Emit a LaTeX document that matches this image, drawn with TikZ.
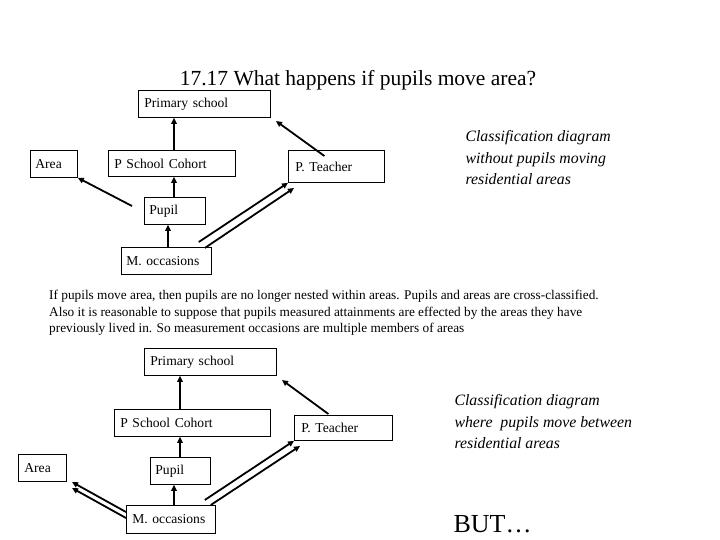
\documentclass[tikz,border=0pt]{standalone}
\usepackage{fontspec}
\setmainfont{Liberation Serif}
\usetikzlibrary{arrows.meta}
\begin{document}
\begin{tikzpicture}[x=1pt,y=-1pt,
  bx/.style={draw,line width=0.8pt,anchor=north west,inner sep=0pt,font=\fontsize{13.6}{15}\selectfont},
  ar/.style={line width=1.8pt,-{Triangle[length=6pt,width=5.5pt]}},
  it/.style={anchor=north west,align=left,font=\itshape\fontsize{15.8}{21.5}\selectfont}]
\useasboundingbox (0,0) rectangle (720,540);
\node[font=\fontsize{21.5}{24}\selectfont] (title) at (358,80) {17.17 What happens if pupils move area?};
% top diagram
\node[bx,minimum width=132pt,minimum height=27pt,text width=132pt] (ps1) at (138,90) {\hspace*{6pt}Primary school};
\node[bx,minimum width=47pt,minimum height=27pt,text width=47pt] (ar1) at (30,150) {\hspace*{5pt}Area};
\node[bx,minimum width=127pt,minimum height=26pt,text width=127pt] (co1) at (108,150) {\hspace*{6pt}P School Cohort};
\node[bx,minimum width=96pt,minimum height=32pt,text width=96pt] (te1) at (288,150) {\hspace*{7pt}P. Teacher};
\node[bx,minimum width=61pt,minimum height=27pt,text width=61pt] (pu1) at (144,197) {\hspace*{5pt}Pupil};
\node[bx,minimum width=90pt,minimum height=27pt,text width=90pt] (mo1) at (121,247) {\hspace*{5pt}M. occasions};
\draw[ar] (co1.north -| 174,0) -- (ps1.south -| 174,0);
\draw[ar] (pu1.north -| 174,0) -- (co1.south -| 174,0);
\draw[ar] (mo1.north -| 168,0) -- (pu1.south -| 168,0);
\draw[ar] (pu1.north west) ++(-12,9) coordinate (p1a) -- (ar1.south east);
\draw[ar] (te1.north) ++(-12,6) coordinate (t1a) -- (276,121) coordinate (t1b);
\draw[ar] (mo1.north east) ++(-13,-5) coordinate (m1a) -- (te1.south west);
\draw[ar] (mo1.north east) ++(-7,1) coordinate (m1b) -- (294,188) coordinate (t1c);
\node[it] (c1) at (462,127) {Classification diagram\\without pupils moving\\residential areas};
\node[anchor=north west,align=left,inner sep=0pt,font=\fontsize{13.3}{16.5}\selectfont] (par) at (49,290) {If pupils move area, then pupils are no longer nested within areas. Pupils and areas are cross-classified.\\Also it is reasonable to suppose that pupils measured attainments are effected by the areas they have\\previously lived in. So measurement occasions are multiple members of areas};
% bottom diagram
\node[bx,minimum width=132pt,minimum height=27pt,text width=132pt] (ps2) at (144,348) {\hspace*{6pt}Primary school};
\node[bx,minimum width=156pt,minimum height=27pt,text width=156pt] (co2) at (114,409) {\hspace*{6pt}P School Cohort};
\node[bx,minimum width=98pt,minimum height=25pt,text width=98pt] (te2) at (294,415) {\hspace*{7pt}P. Teacher};
\node[bx,minimum width=48pt,minimum height=27pt,text width=48pt] (ar2) at (18,454) {\hspace*{6pt}Area};
\node[bx,minimum width=60pt,minimum height=27pt,text width=60pt] (pu2) at (150,457) {\hspace*{5pt}Pupil};
\node[bx,minimum width=89pt,minimum height=28pt,text width=89pt] (mo2) at (126,505) {\hspace*{6pt}M. occasions};
\draw[ar] (co2.north -| 180,0) -- (ps2.south -| 180,0);
\draw[ar] (pu2.north -| 180,0) -- (co2.south -| 180,0);
\draw[ar] (mo2.north -| 174,0) -- (pu2.south -| 174,0);
\draw[ar] (te2.north) ++(-15,-1) coordinate (t2a) -- (282,380) coordinate (t2b);
\draw[ar] (mo2.north west) ++(0,7) coordinate (m2a) -- (72,482) coordinate (a2a);
\draw[ar] (mo2.north west) ++(0,13) coordinate (m2b) -- (72,488) coordinate (a2b);
\draw[ar] (mo2.north east) ++(-11,-5) coordinate (m2c) -- (te2.south west);
\draw[ar] (mo2.north east) ++(-5,0) coordinate (m2d) -- (300,446) coordinate (t2c);
\node[it] (c2) at (451,391) {Classification diagram\\where\ \ pupils move between\\residential areas};
\node[anchor=north west,font=\fontsize{26}{30}\selectfont] (but) at (450,512) {BUT…};
\end{tikzpicture}
\end{document}
